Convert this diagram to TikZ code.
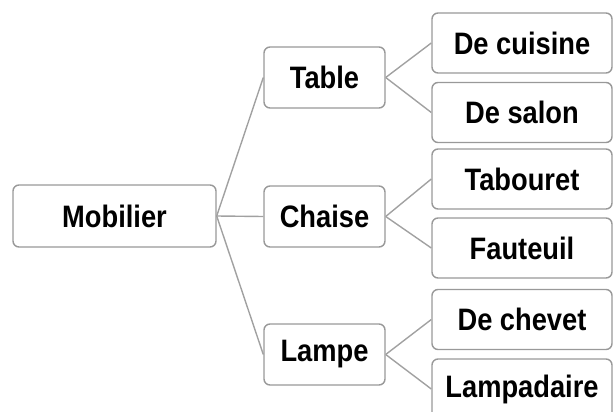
\documentclass[tikz,border=0pt]{standalone}
\usepackage{fontspec}
\setmainfont{Liberation Sans}[FakeStretch=0.88]
\tikzset{
  box/.style={draw=black!40, line width=1.4pt, rounded corners=6pt, fill=white,
    font=\bfseries\fontsize{31}{34}\selectfont, inner sep=0pt, align=center},
  midbox/.style={box, minimum width=121pt, minimum height=61pt},
  leafbox/.style={box, minimum width=180pt, minimum height=60pt},
  link/.style={draw=black!37, line width=1.4pt}
}
\begin{document}
\begin{tikzpicture}[x=1pt,y=-1pt]
\useasboundingbox (0,0) rectangle (613,412);
\begin{scope}
\clip (0,0) rectangle (613,412);
\node[box, minimum width=203pt, minimum height=62pt] (mob) at (114.5,216) {Mobilier};
\node[midbox] (table) at (324.5,77.5) {Table};
\node[midbox] (chaise) at (324.5,216.5) {Chaise};
\node[midbox] (lampe) at (324.5,354.5) {Lampe};
\node[leafbox] (cuis) at (522,43) {De cuisine};
\node[leafbox] (salon) at (522,112.5) {De salon};
\node[leafbox] (tab) at (522,179) {Tabouret};
\node[leafbox] (faut) at (522,248) {Fauteuil};
\node[leafbox] (chev) at (522,319.5) {De chevet};
\node[leafbox] (lampa) at (522,389) {Lampadaire};
\draw[link] (mob.east) -- (table.west);
\draw[link] (mob.east) -- (chaise.west);
\draw[link] (mob.east) -- (lampe.west);
\draw[link] (table.east) -- (cuis.west);
\draw[link] (table.east) -- (salon.west);
\draw[link] (chaise.east) -- (tab.west);
\draw[link] (chaise.east) -- (faut.west);
\draw[link] (lampe.east) -- (chev.west);
\draw[link] (lampe.east) -- (lampa.west);
\end{scope}
\end{tikzpicture}
\end{document}
